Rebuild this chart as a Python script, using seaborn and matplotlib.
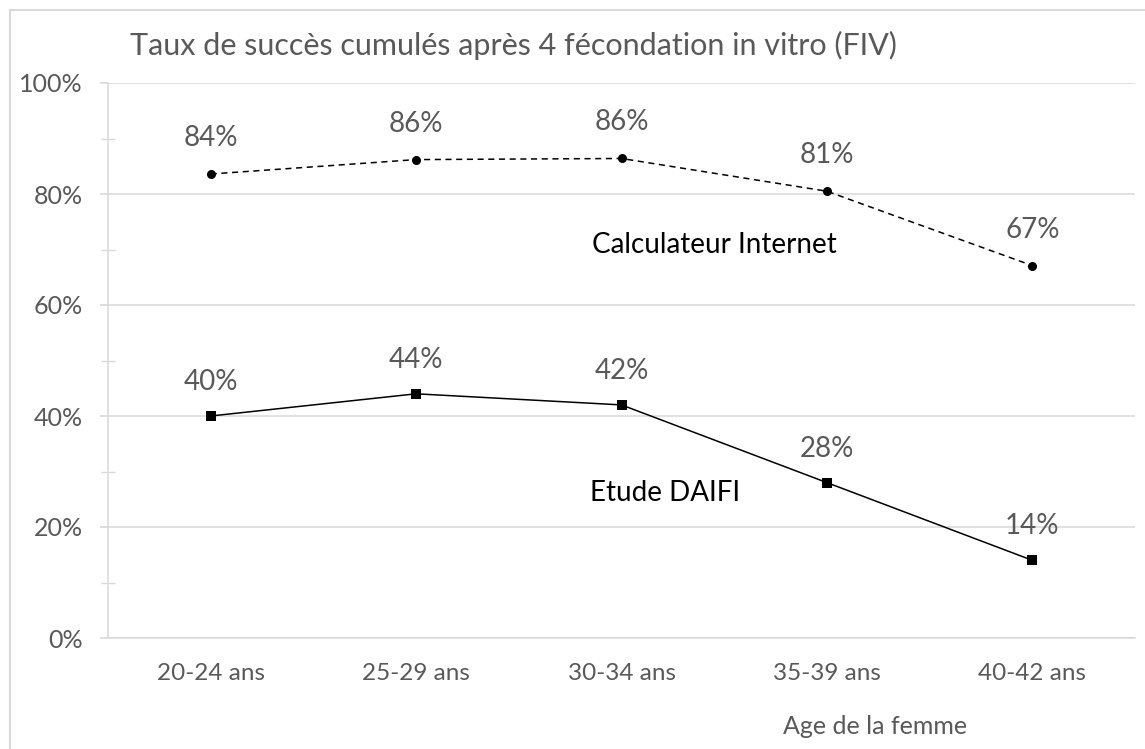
import pandas as pd
import matplotlib.pyplot as plt
import seaborn as sns
from matplotlib.lines import Line2D
from matplotlib.ticker import MultipleLocator, PercentFormatter

ages = ["20-24 ans", "25-29 ans", "30-34 ans", "35-39 ans", "40-42 ans"]
calculateur = [83.6, 86.2, 86.4, 80.5, 67.1]
calculateur_labels = ["84%", "86%", "86%", "81%", "67%"]
daifi = [40, 44, 42, 28, 14]
daifi_labels = ["40%", "44%", "42%", "28%", "14%"]

grey = "#595959"
light = "#d9d9d9"

sns.set_theme(style="white")
plt.rcParams["font.family"] = ["Lato", "DejaVu Sans"]

df_calc = pd.DataFrame({"age": ages, "taux": calculateur})
df_daifi = pd.DataFrame({"age": ages, "taux": daifi})

fig = plt.figure(figsize=(11.45, 7.49), dpi=100)
ax = fig.add_axes([108 / 1145, 1 - 638 / 749, (1135 - 108) / 1145, (638 - 83) / 749])

sns.lineplot(data=df_calc, x="age", y="taux", ax=ax, sort=False, color="black",
             linewidth=1.1, linestyle=(0, (4, 3)), marker="o", markersize=6.5,
             markeredgewidth=0)
sns.lineplot(data=df_daifi, x="age", y="taux", ax=ax, sort=False, color="black",
             linewidth=1.1, marker="s", markersize=6.5, markeredgewidth=0)

for i, (v, lab) in enumerate(zip(calculateur, calculateur_labels)):
    ax.annotate(lab, (i, v), xytext=(0, 28), textcoords="offset pixels",
                ha="center", va="baseline", fontsize=20, color=grey)
for i, (v, lab) in enumerate(zip(daifi, daifi_labels)):
    ax.annotate(lab, (i, v), xytext=(0, 26), textcoords="offset pixels",
                ha="center", va="baseline", fontsize=20, color=grey)

ax.text(2.45, 70.8, "Calculateur Internet", ha="center", va="center",
        fontsize=20, color="black")
ax.text(2.21, 26.1, "Etude DAIFI", ha="center", va="center",
        fontsize=20, color="black")

ax.set_xlim(-0.5, 4.5)
ax.set_ylim(0, 100)
ax.yaxis.set_major_locator(MultipleLocator(20))
ax.yaxis.set_minor_locator(MultipleLocator(10))
ax.yaxis.set_major_formatter(PercentFormatter(decimals=0))
ax.grid(axis="y", which="major", color=light, linewidth=1.1)
ax.set_axisbelow(True)

for side in ["top", "right"]:
    ax.spines[side].set_visible(False)
ax.spines["left"].set_color(light)
ax.spines["bottom"].set_color(light)
ax.spines["left"].set_linewidth(1.1)
ax.spines["bottom"].set_linewidth(1.1)

ax.tick_params(axis="y", which="major", left=True, length=6, color=light,
               labelsize=18, labelcolor=grey, pad=12)
ax.tick_params(axis="y", which="minor", left=True, length=10, color=light,
               direction="inout")
ax.tick_params(axis="x", bottom=False, labelsize=17.5, labelcolor=grey, pad=12)

ax.set_xlabel("Age de la femme", fontsize=18, color=grey, ha="center", va="center")
ax.xaxis.set_label_coords(0.747, -0.160)
ax.set_ylabel("")

fig.text(130 / 1145, 1 - 45 / 749, "Taux de succès cumulés après 4 fécondation in vitro (FIV)",
         fontsize=22, color=grey, ha="left", va="center")

fig.add_artist(Line2D([9.5 / 1145, 1], [1 - 9.5 / 749, 1 - 9.5 / 749],
                      transform=fig.transFigure, color=light, linewidth=1.5))
fig.add_artist(Line2D([9.5 / 1145, 9.5 / 1145], [0, 1 - 9.5 / 749],
                      transform=fig.transFigure, color=light, linewidth=1.5))

fig.savefig("out.png", dpi=100)
